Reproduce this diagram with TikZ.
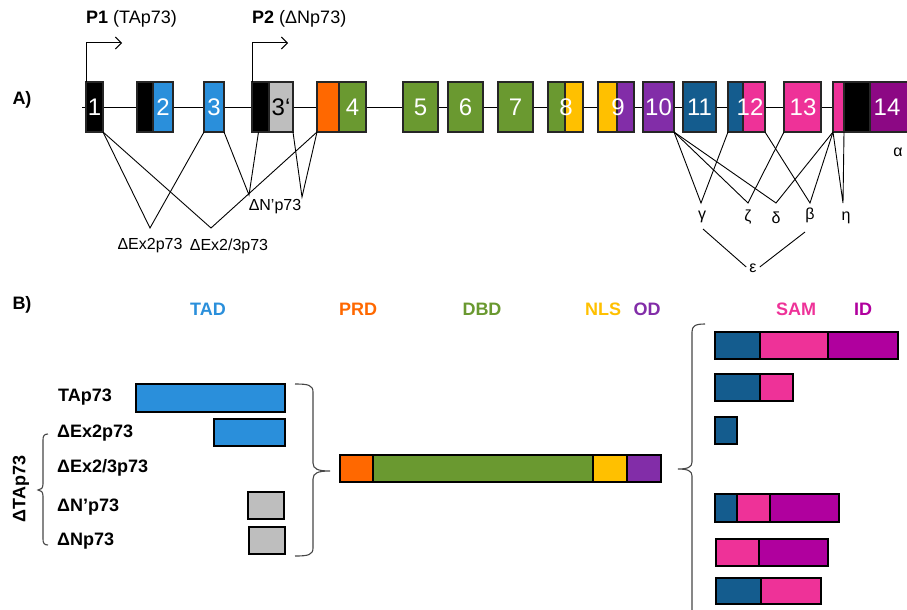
\documentclass[tikz,border=0pt]{standalone}
\usepackage{fontspec}
\setmainfont{Liberation Sans}
\usetikzlibrary{arrows.meta}

\definecolor{tadblue}{RGB}{42,143,219}
\definecolor{prdorange}{RGB}{255,104,0}
\definecolor{dbdgreen}{RGB}{106,153,48}
\definecolor{nlsyellow}{RGB}{255,192,0}
\definecolor{odpurple}{RGB}{130,45,168}
\definecolor{darkblue}{RGB}{20,92,142}
\definecolor{sampink}{RGB}{238,50,152}
\definecolor{idmagenta}{RGB}{176,0,158}
\definecolor{exmagenta}{RGB}{140,8,132}
\definecolor{utrgray}{RGB}{190,190,190}
\definecolor{bracegray}{RGB}{70,70,70}

% one coloured block: name, x1, x2, y1, y2, fill, style
\newcommand\blk[7]{%
  \node[#7, fill=#6, minimum width={(#3-#2)*1pt}, minimum height={(#5-#4)*1pt}]
    (#1) at ({(#2+#3)/2},{(#4+#5)/2}) {};}

\tikzset{
  exonbox/.style={draw=black!85, line width=1.1pt, inner sep=0pt, outer sep=0pt},
  barbox/.style={draw=black, line width=2pt, inner sep=0pt, outer sep=0pt},
  num/.style={text=white, font=\fontsize{24}{24}\selectfont, inner sep=0pt},
  splice/.style={draw=black, line width=0.9pt},
  greek/.style={font=\fontsize{16}{16}\selectfont, inner sep=0pt},
  small/.style={font=\fontsize{16}{16}\selectfont, inner sep=0pt},
  panel/.style={font=\fontsize{18}{18}\selectfont\bfseries, inner sep=0pt},
  iso/.style={font=\fontsize{18}{18}\selectfont\bfseries, inner sep=0pt, anchor=west},
  dom/.style={font=\fontsize{18}{18}\selectfont\bfseries, inner sep=0pt},
  brace/.style={draw=bracegray, line width=1.1pt},
  prom/.style={draw=black, line width=1pt, -{Straight Barb[length=6pt,width=12pt,line width=1pt]}},
  promlbl/.style={font=\fontsize{18}{18}\selectfont, inner sep=0pt, anchor=west},
}

\begin{document}
\begin{tikzpicture}[x=1pt,y=-1pt]
\useasboundingbox (0,0) rectangle (907,610);
\clip (0,0) rectangle (907,610);

% ---------------- A) gene structure ----------------
\node[panel] (lblA) at (22,100) {A)};

\coordinate (axisL) at (82,107);
\coordinate (axisR) at (910,107);
\draw[line width=1pt] (axisL) -- (axisR);

\blk{e1}{86}{103}{82}{132}{black}{exonbox}
\blk{e2a}{137}{153}{82}{132}{black}{exonbox}
\blk{e2b}{153}{173}{82}{132}{tadblue}{exonbox}
\blk{e3}{204}{224}{82}{132}{tadblue}{exonbox}
\blk{e3a}{252}{269}{82}{132}{black}{exonbox}
\blk{e3b}{269}{293}{82}{132}{utrgray}{exonbox}
\blk{e4a}{317}{339}{82}{132}{prdorange}{exonbox}
\blk{e4b}{339}{366}{82}{132}{dbdgreen}{exonbox}
\blk{e5}{403}{438}{82}{132}{dbdgreen}{exonbox}
\blk{e6}{448}{483}{82}{132}{dbdgreen}{exonbox}
\blk{e7}{498}{533}{82}{132}{dbdgreen}{exonbox}
\blk{e8a}{548}{565}{82}{132}{dbdgreen}{exonbox}
\blk{e8b}{565}{583}{82}{132}{nlsyellow}{exonbox}
\blk{e9a}{598}{617}{82}{132}{nlsyellow}{exonbox}
\blk{e9b}{617}{634}{82}{132}{odpurple}{exonbox}
\blk{e10}{643}{674}{82}{132}{odpurple}{exonbox}
\blk{e11}{683}{716}{82}{132}{darkblue}{exonbox}
\blk{e12a}{728}{743}{82}{132}{darkblue}{exonbox}
\blk{e12b}{743}{765}{82}{132}{sampink}{exonbox}
\blk{e13}{784}{821}{82}{132}{sampink}{exonbox}
\blk{e14a}{833}{844}{82}{132}{sampink}{exonbox}
\blk{e14b}{844}{870}{82}{132}{black}{exonbox}
\blk{e14c}{870}{915}{82}{132}{exmagenta}{exonbox}

% exon numbers
\node[num] at (94.5,107) {1};
\node[num] at (163,107) {2};
\node[num] at (214,107) {3};
\node[num, text=black] at (281,107) {3‘};
\node[num] at (352.5,107) {4};
\node[num] at (420.5,107) {5};
\node[num] at (465.5,107) {6};
\node[num] at (515.5,107) {7};
\node[num] at (566,107) {8};
\node[num] at (618,107) {9};
\node[num] at (658.5,107) {10};
\node[num] at (699.5,107) {11};
\node[num] at (750,107) {12};
\node[num] at (803,107) {13};
\node[num] at (887,107) {14};

% promoters
\coordinate (p1end) at (122,43);
\coordinate (p2end) at (288,43);
\draw[prom] (e1.north west) |- (p1end);
\draw[prom] (e3a.north west) |- (p2end);
\node[promlbl] (p1lbl) at (86,19) {\textbf{P1} (TAp73)};
\node[promlbl] (p2lbl) at (252,19) {\textbf{P2} (ΔNp73)};

% N-terminal splicing
\coordinate (vEx2) at (150,228);
\coordinate (vEx23) at (211,228);
\coordinate (vNp1) at (249,195);
\coordinate (vNp2) at (302,197);
\draw[splice] (e1.south east) -- (vEx2) -- (e3.south west);
\draw[splice] (e1.south east) -- (vEx23) -- (e4a.south west);
\draw[splice] (e3.south east) -- (vNp1) -- ([xshift=-2pt]e3a.south);
\draw[splice] (e3b.south east) -- (vNp2) -- (e4a.south west);
\node[small] (lEx2) at (150,246) {ΔEx2p73};
\node[small] (lEx23) at (229,246) {ΔEx2/3p73};
\node[small] (lNp) at (275,207) {ΔN’p73};

% C-terminal splicing
\coordinate (vg) at (701,203);
\coordinate (vz) at (748,203);
\coordinate (vd) at (776,203);
\coordinate (vb) at (810,203);
\coordinate (vh) at (843,203);
\draw[splice] (e10.south east) -- (vg) -- (e12a.south west);
\draw[splice] (e10.south east) -- (vz) -- (e13.south west);
\draw[splice] (e10.south east) -- (vd) -- (e14a.south west);
\draw[splice] (e12b.south east) -- (vb) -- (e14a.south west);
\draw[splice] (e14a.south west) -- (vh) -- (e14a.south east);
\node[greek] (lg) at (702,217) {γ};
\node[greek] (lz) at (748,217) {ζ};
\node[greek] (ld) at (776,218) {δ};
\node[greek] (lb) at (810,215) {β};
\node[greek] (lh) at (846,218) {η};
\node[greek] (la) at (898,152) {α};
\node[greek] (le) at (753,268) {ε};
\coordinate (eg) at (703,229);
\coordinate (eb) at (805,232);
\draw[splice] (eg) -- ([shift={(-3,-1)}]le.west);
\draw[splice] (eb) -- ([shift={(3,-1)}]le.east);

% ---------------- B) protein isoforms ----------------
\node[panel] (lblB) at (22,305) {B)};

\node[dom, text=tadblue] at (208,309) {TAD};
\node[dom, text=prdorange] at (358,309) {PRD};
\node[dom, text=dbdgreen] at (482,309) {DBD};
\node[dom, text=nlsyellow] at (603,309) {NLS};
\node[dom, text=odpurple] at (647,309) {OD};
\node[dom, text=sampink] at (796,309) {SAM};
\node[dom, text=idmagenta] at (863,309) {ID};

% N-termini
\node[iso] (nTA) at (58,397) {TAp73};
\node[iso] (nEx2) at (57,433) {ΔEx2p73};
\node[iso] (nEx23) at (57,468) {ΔEx2/3p73};
\node[iso] (nNp1) at (57,507) {ΔN’p73};
\node[iso] (nNp2) at (57,541) {ΔNp73};
\node[dom, rotate=90] (nDTA) at (21,489) {ΔTAp73};

\draw[brace] (48,434) .. controls (44,434) and (43,436) .. (43,440)
  -- (43,484) .. controls (43,488) and (41,490) .. (38,490)
  .. controls (41,490) and (43,492) .. (43,496)
  -- (43,539) .. controls (43,543) and (44,545) .. (48,545);

\blk{bTA}{136}{285}{384}{412}{tadblue}{barbox}
\blk{bEx2}{214}{285}{419}{446}{tadblue}{barbox}
\blk{bNp1}{248}{284}{492}{519}{utrgray}{barbox}
\blk{bNp2}{249}{285}{527}{554}{utrgray}{barbox}

\draw[brace] (295,384) .. controls (308,384) and (313,385) .. (313,392)
  -- (313,463) .. controls (313,469) and (318,471) .. (330,471)
  .. controls (318,471) and (313,473) .. (313,479)
  -- (313,548) .. controls (313,555) and (308,556) .. (295,556);

% common core
\blk{cPRD}{340}{373}{455}{482}{prdorange}{barbox}
\blk{cDBD}{373}{593}{455}{482}{dbdgreen}{barbox}
\blk{cNLS}{593}{627}{455}{482}{nlsyellow}{barbox}
\blk{cOD}{627}{661}{455}{482}{odpurple}{barbox}

\draw[brace] (705,324) .. controls (695,324) and (692,326) .. (692,332)
  -- (692,462) .. controls (692,467) and (688,469) .. (678,469)
  .. controls (688,469) and (692,471) .. (692,476)
  -- (692,620);

% C-termini
\blk{r1a}{715}{760}{332}{359}{darkblue}{barbox}
\blk{r1b}{760}{828}{332}{359}{sampink}{barbox}
\blk{r1c}{828}{898}{332}{359}{idmagenta}{barbox}

\blk{r2a}{715}{760}{374}{401}{darkblue}{barbox}
\blk{r2b}{760}{793}{374}{401}{sampink}{barbox}

\blk{r3a}{715}{737}{417}{444}{darkblue}{barbox}

\blk{r4a}{715}{737}{494}{522}{darkblue}{barbox}
\blk{r4b}{737}{770}{494}{522}{sampink}{barbox}
\blk{r4c}{770}{839}{494}{522}{idmagenta}{barbox}

\blk{r5a}{716}{759}{539}{566}{sampink}{barbox}
\blk{r5b}{759}{828}{539}{566}{idmagenta}{barbox}

\blk{r6a}{716}{761}{578}{604}{darkblue}{barbox}
\blk{r6b}{761}{821}{578}{604}{sampink}{barbox}

\end{tikzpicture}
\end{document}
